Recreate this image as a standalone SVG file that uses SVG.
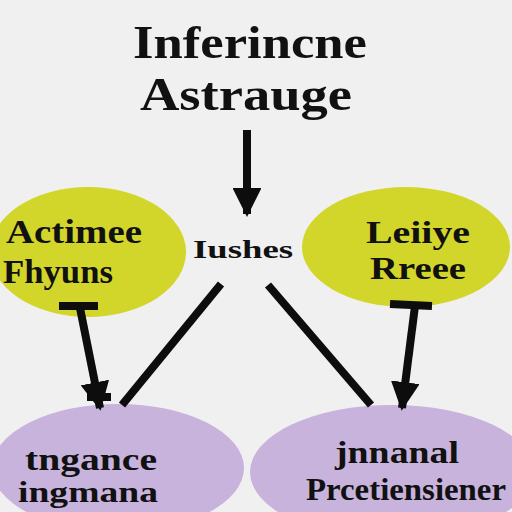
<svg xmlns="http://www.w3.org/2000/svg" width="512" height="512" viewBox="0 0 512 512">
<style>
.t{font-family:"Liberation Serif","DejaVu Serif",serif;fill:#111;font-weight:bold}
.yl{fill:#d3d62a}
.pu{fill:#c7b3dc}
.ln{stroke:#0d0d0d;stroke-width:8;fill:none;stroke-linecap:butt}
</style>
<defs>
<marker id="ah" viewBox="0 0 10 10" refX="9" refY="5" markerWidth="3.6" markerHeight="3.6" orient="auto" markerUnits="strokeWidth">
<path d="M0,0 L10,5 L0,10 z" fill="#0d0d0d"/>
</marker>
</defs>
<rect width="512" height="512" fill="#f0f0f1"/>
<g id="title">
<text class="t" x="250" y="58" font-size="46" text-anchor="middle" font-weight="normal" textLength="234" lengthAdjust="spacingAndGlyphs">Inferincne</text>
<text class="t" x="246" y="110" font-size="46" text-anchor="middle" font-weight="normal" textLength="212" lengthAdjust="spacingAndGlyphs">Astrauge</text>
</g>
<g id="center-label">
<text class="t" x="243" y="258" font-size="26" text-anchor="middle" textLength="100" lengthAdjust="spacingAndGlyphs">Iushes</text>
</g>
<g id="node-left">
<ellipse class="yl" cx="88" cy="252" rx="98" ry="65"/>
<text class="t" x="74" y="243" font-size="34" text-anchor="middle" textLength="136" lengthAdjust="spacingAndGlyphs">Actimee</text>
<text class="t" x="3" y="283" font-size="34" text-anchor="start" textLength="110" lengthAdjust="spacingAndGlyphs">Fhyuns</text>
</g>
<g id="node-right">
<ellipse class="yl" cx="406" cy="247" rx="104" ry="60"/>
<text class="t" x="418" y="243" font-size="32" text-anchor="middle" textLength="104" lengthAdjust="spacingAndGlyphs">Leiiye</text>
<text class="t" x="418" y="279" font-size="32" text-anchor="middle" textLength="96" lengthAdjust="spacingAndGlyphs">Rreee</text>
</g>
<g id="node-bottom-left">
<ellipse class="pu" cx="118" cy="468" rx="126" ry="64"/>
<text class="t" x="91" y="470" font-size="32" text-anchor="middle" textLength="132" lengthAdjust="spacingAndGlyphs">tngance</text>
<text class="t" x="88" y="502" font-size="30" text-anchor="middle" textLength="140" lengthAdjust="spacingAndGlyphs">ingmana</text>
</g>
<g id="node-bottom-right">
<ellipse class="pu" cx="392" cy="472" rx="142" ry="67"/>
<text class="t" x="397" y="463" font-size="32" text-anchor="middle" textLength="124" lengthAdjust="spacingAndGlyphs">jnnanal</text>
<text class="t" x="406" y="500" font-size="32" text-anchor="middle" textLength="200" lengthAdjust="spacingAndGlyphs">Prcetiensiener</text>
</g>
<g id="connectors">
<line class="ln" x1="247" y1="130" x2="247" y2="214" marker-end="url(#ah)"/>
<line class="ln" x1="221" y1="284" x2="122" y2="405"/>
<line class="ln" x1="268" y1="285" x2="371" y2="405"/>
<line class="ln" x1="59" y1="306" x2="98" y2="306"/>
<line class="ln" x1="80" y1="308" x2="100" y2="408" marker-end="url(#ah)"/>
<line class="ln" x1="87" y1="397" x2="111" y2="397" stroke-width="5"/>
<line class="ln" x1="390" y1="304" x2="432" y2="306"/>
<line class="ln" x1="415" y1="306" x2="402" y2="408" marker-end="url(#ah)"/>
</g>
</svg>
